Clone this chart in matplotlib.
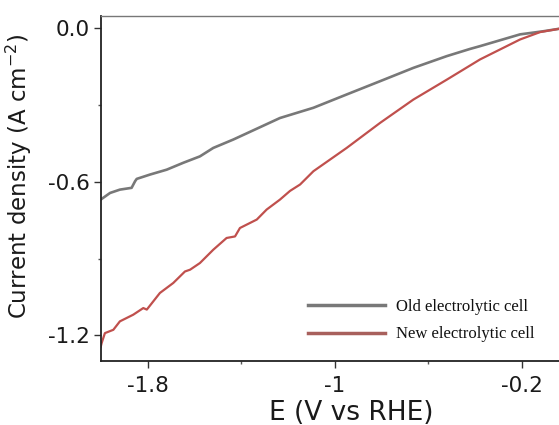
import matplotlib
matplotlib.use("Agg")
import matplotlib.pyplot as plt
from matplotlib.ticker import FixedLocator

# ---- data ----
old_E = [-2.00, -1.96, -1.918, -1.868, -1.853, -1.846, -1.789, -1.718, -1.647,
         -1.576, -1.519, -1.433, -1.234, -1.091, -0.949, -0.806, -0.664,
         -0.521, -0.422, -0.379, -0.208, -0.11, -0.04, 0.0]
old_J = [-0.669, -0.643, -0.630, -0.623, -0.597, -0.588, -0.571, -0.552, -0.525,
         -0.500, -0.467, -0.434, -0.350, -0.310, -0.258, -0.206, -0.154,
         -0.108, -0.080, -0.069, -0.023, -0.011, -0.001, 0.0]

new_E = [-2.00, -1.996, -1.982, -1.946, -1.918, -1.861, -1.818, -1.803, -1.747,
         -1.690, -1.640, -1.618, -1.576, -1.519, -1.462, -1.426, -1.405,
         -1.333, -1.291, -1.234, -1.191, -1.148, -1.091, -0.949, -0.806,
         -0.664, -0.521, -0.379, -0.208, -0.122, -0.04, 0.0]
new_J = [-1.245, -1.230, -1.191, -1.178, -1.145, -1.119, -1.093, -1.099, -1.034,
         -0.995, -0.950, -0.943, -0.917, -0.865, -0.819, -0.813, -0.780,
         -0.747, -0.708, -0.669, -0.635, -0.610, -0.558, -0.467, -0.369,
         -0.278, -0.200, -0.121, -0.043, -0.014, -0.001, 0.0]

labels = ["Old electrolytic cell", "New electrolytic cell"]
x_major = [-1.8, -1.0, -0.2]
x_major_labels = ["-1.8", "-1", "-0.2"]
x_minor = [-1.4, -0.6]
y_major = [0.0, -0.6, -1.2]
y_major_labels = ["0.0", "-0.6", "-1.2"]
y_minor = [-0.3, -0.9]

W, H = 559, 425
fig = plt.figure(figsize=(W / 100, H / 100), dpi=100)
plt.rcParams['font.family'] = ['DejaVu Sans']

left_px, right_px, top_px, bot_px = 100.7, 601.5, 15.7, 361.0
ax = fig.add_axes([left_px / W, 1 - bot_px / H, (right_px - left_px) / W,
                   (bot_px - top_px) / H])

l1, = ax.plot(old_E, old_J, color="#787878", lw=1.9)
l2, = ax.plot(new_E, new_J, color="#c0504d", lw=1.6)

ax.set_xlim(-2.0, 0.14)
ax.set_ylim(-1.3, 0.05)

ax.xaxis.set_major_locator(FixedLocator(x_major))
ax.set_xticklabels(x_major_labels)
ax.xaxis.set_minor_locator(FixedLocator(x_minor))
ax.yaxis.set_major_locator(FixedLocator(y_major))
ax.set_yticklabels(y_major_labels)
ax.yaxis.set_minor_locator(FixedLocator(y_minor))

ax.tick_params(which="major", direction="out", length=5, width=1.0,
               labelsize=15.5, color="#333333", labelcolor="#1a1a1a")
ax.tick_params(axis="x", which="major", pad=6)
ax.tick_params(axis="y", which="major", pad=3)
ax.tick_params(which="minor", direction="out", length=2.5, width=1.0,
               color="#555555")

for s in ["left", "bottom"]:
    ax.spines[s].set_linewidth(1.3)
    ax.spines[s].set_color("#222222")
ax.spines["top"].set_linewidth(1.0)
ax.spines["top"].set_color("#777777")
ax.spines["right"].set_visible(False)

ax.set_xlabel("E (V vs RHE)", fontsize=19, color="#1a1a1a")
ax.xaxis.set_label_coords(0.5, -0.112)
ax.set_ylabel("Current density (A cm$^{-2}$)", fontsize=16.5, color="#1a1a1a")
ax.yaxis.set_label_coords(-0.133, 0.535)

leg = ax.legend([l1, l2], labels, loc="center left",
                bbox_to_anchor=(308 / W, 1 - 320.5 / H),
                bbox_transform=fig.transFigure, frameon=False,
                prop={"family": "Liberation Serif", "size": 12},
                handlelength=4.6, handletextpad=0.7, labelspacing=0.7,
                borderpad=0, borderaxespad=0)
for t in leg.get_texts():
    t.set_color("#111111")
leg.get_lines()[0].set_linewidth(2.5)
leg.get_lines()[1].set_linewidth(2.5)
leg.get_lines()[1].set_color("#a8605c")

fig.savefig("out.png", dpi=100)
